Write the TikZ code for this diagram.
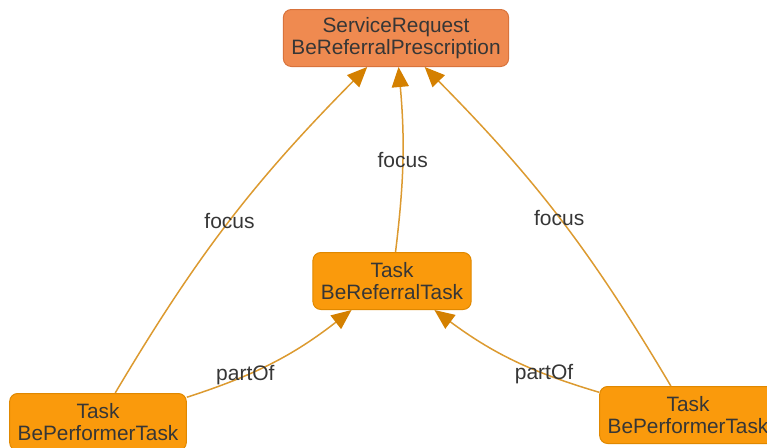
\documentclass[tikz,border=0pt]{standalone}
\usepackage{fontspec}
\setmainfont{Liberation Sans}
\usetikzlibrary{arrows.meta}
\definecolor{srfill}{HTML}{EF8A50}
\definecolor{srdraw}{HTML}{D8733C}
\definecolor{tkfill}{HTML}{FA9A0C}
\definecolor{tkdraw}{HTML}{E08800}
\definecolor{edgec}{HTML}{DC9A30}
\definecolor{headc}{HTML}{D48000}
\definecolor{txt}{HTML}{363636}
\tikzset{
  box/.style={rounded corners=8pt, line width=1pt, align=center, inner xsep=8pt,
    minimum height=57pt, text=txt, font=\fontsize{20.8}{22.5}\selectfont},
  srbox/.style={box, fill=srfill, draw=srdraw},
  tkbox/.style={box, fill=tkfill, draw=tkdraw},
  rel/.style={draw=edgec, line width=1.5pt,
    -{Triangle[length=20pt,width=17pt,fill=headc,color=headc]}},
  lbl/.style={text=txt, font=\fontsize{21}{22}\selectfont, inner sep=0pt, fill=none}
}
\begin{document}
\begin{tikzpicture}[x=1pt,y=-1pt]
\useasboundingbox (0,0) rectangle (767,447);
\node[srbox] (sr) at (396,38) {ServiceRequest\\BeReferralPrescription};
\node[tkbox] (rt) at (392,281) {Task\\BeReferralTask};
\node[tkbox] (pl) at (98,422) {Task\\BePerformerTask};
\node[tkbox] (pr) at (688,415) {Task\\BePerformerTask};
\draw[rel] (pl) to[bend left=7] node[lbl, pos=0.5] {focus} (sr);
\draw[rel] (rt) to[bend right=6] node[lbl, pos=0.5] {focus} (sr);
\draw[rel] (pr) to[bend right=7] node[lbl, pos=0.5] {focus} (sr);
\draw[rel] (pl) to[bend right=10] node[lbl, pos=0.32] {partOf} (rt);
\draw[rel] (pr) to[bend left=10] node[lbl, pos=0.3] {partOf} (rt);
\end{tikzpicture}
\end{document}
